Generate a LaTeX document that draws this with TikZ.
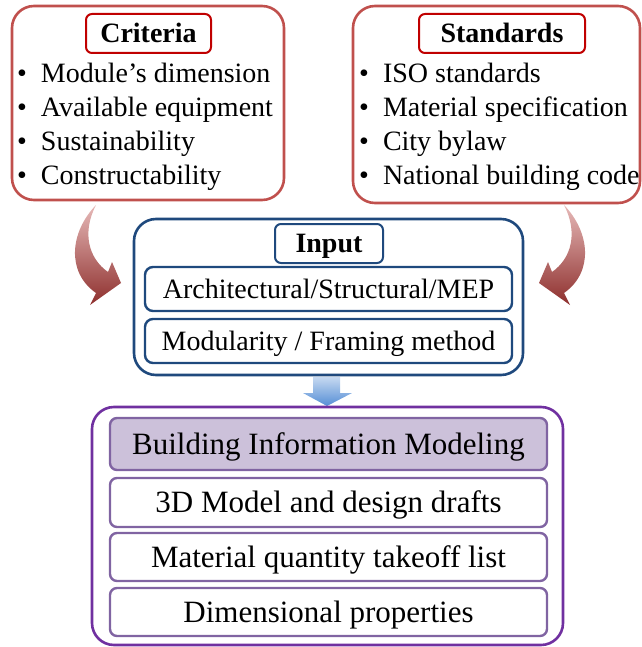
\documentclass[tikz,border=0pt]{standalone}
\usepackage{fontspec}
\setmainfont{Liberation Serif}
\definecolor{critred}{HTML}{C0504D}
\definecolor{titlered}{HTML}{C00000}
\definecolor{inblue}{HTML}{1F497D}
\definecolor{bimpurple}{HTML}{7030A0}
\definecolor{boxpurple}{HTML}{8064A2}
\definecolor{bimfill}{HTML}{CCC1DA}
\definecolor{arrowlight}{HTML}{E6B9B8}
\definecolor{arrowdark}{HTML}{8E2F2D}
\definecolor{downlight}{HTML}{C6D9F1}
\definecolor{downdark}{HTML}{558ED5}
\tikzset{
  panel/.style={draw=#1, line width=2.6pt, rounded corners=22pt},
  titlebox/.style={draw=#1, line width=2pt, rounded corners=6pt,
    font=\fontsize{28}{33}\selectfont\bfseries, text height=18.5pt, text depth=0pt},
  itembox/.style={draw=#1, line width=2.4pt, rounded corners=8pt,
    font=\fontsize{28}{33}\selectfont, text height=18.5pt, text depth=0pt},
  bimbox/.style={draw=boxpurple, line width=2.4pt, rounded corners=7pt,
    minimum width=437pt, font=\fontsize{31}{36}\selectfont, text height=20.5pt, text depth=0pt},
  bullet/.style={anchor=base west, font=\fontsize{28}{33}\selectfont},
  curvedarrow/.style={top color=arrowlight, bottom color=arrowdark},
}
\newcommand{\bul}{\makebox[24pt][l]{\textbullet}}
\begin{document}
\begin{tikzpicture}[x=1pt, y=-1pt, every node/.style={inner sep=0pt, outer sep=0pt}]
\useasboundingbox (0,0) rectangle (641,647);

% Criteria panel
\node[panel=critred, minimum width=272pt, minimum height=194pt] (crit) at (148,103) {};
\node[titlebox=titlered, minimum width=125pt, minimum height=39pt] (crittitle) at (148.5,33.5) {Criteria};
\node[bullet] (c1) at (17,83)  {\bul Module’s dimension};
\node[bullet] (c2) at (17,117) {\bul Available equipment};
\node[bullet] (c3) at (17,150) {\bul Sustainability};
\node[bullet] (c4) at (17,184) {\bul Constructability};

% Standards panel
\node[panel=critred, minimum width=287pt, minimum height=197pt] (std) at (496.5,104.5) {};
\node[titlebox=titlered, minimum width=166pt, minimum height=39pt] (stdtitle) at (502,33.5) {Standards};
\node[bullet] (s1) at (359,83)  {\bul ISO standards};
\node[bullet] (s2) at (359,117) {\bul Material specification};
\node[bullet] (s3) at (359,151) {\bul City bylaw};
\node[bullet] (s4) at (359,185) {\bul National building code};

% Input panel
\node[panel=inblue, minimum width=389pt, minimum height=156pt] (input) at (328.5,297) {};
\node[titlebox=inblue, minimum width=108pt, minimum height=39pt] (intitle) at (329,243.5) {Input};
\node[itembox=inblue, minimum width=367pt, minimum height=44pt] (arch) at (328.5,289) {Architectural/Structural/MEP};
\node[itembox=inblue, minimum width=367pt, minimum height=44pt] (modul) at (328.5,341) {Modularity / Framing method};

% curved block arrows feeding the input panel
\shade[curvedarrow]
  (96,205) .. controls (70,232) and (66,272) .. (96,293)
  -- (90,305) -- (121,283) -- (112,262) -- (108,272)
  .. controls (88,258) and (82,232) .. (96,205) -- cycle;
\begin{scope}[xshift=660pt, xscale=-1]
\shade[curvedarrow]
  (96,205) .. controls (70,232) and (66,272) .. (96,293)
  -- (90,305) -- (121,283) -- (112,262) -- (108,272)
  .. controls (88,258) and (82,232) .. (96,205) -- cycle;
\end{scope}

% down arrow into the BIM panel
\shade[top color=downlight, bottom color=downdark]
  (313,377) -- (340,377) -- (340,393) -- (352,393) -- (327,406)
  -- (303,393) -- (313,393) -- cycle;

% BIM panel
\node[panel=bimpurple, minimum width=471pt, minimum height=238pt] (bim) at (327.5,526) {};
\node[bimbox, fill=bimfill, minimum height=52pt] (bimtitle) at (328.5,444) {Building Information Modeling};
\node[bimbox, minimum height=49pt] (model) at (328.5,502.5) {3D Model and design drafts};
\node[bimbox, minimum height=48pt] (qto) at (328.5,557) {Material quantity takeoff list};
\node[bimbox, minimum height=48pt] (dims) at (328.5,612) {Dimensional properties};
\end{tikzpicture}
\end{document}
